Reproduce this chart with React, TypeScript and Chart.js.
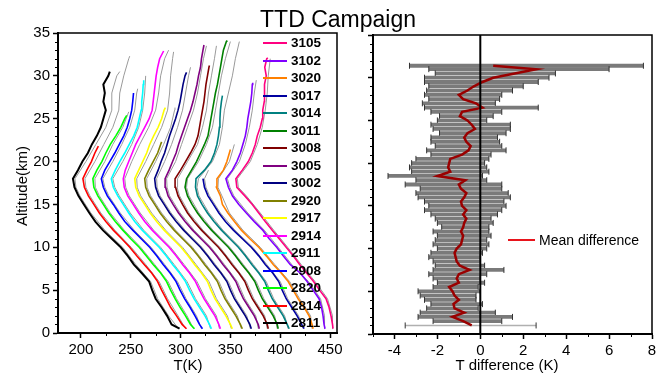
import React, { useEffect, useRef } from "react";
import { Chart, registerables } from "chart.js";

Chart.register(...registerables);

const FONT = "'Liberation Sans', Arial, Helvetica, sans-serif";

// ---------------- Left panel: temperature profiles (offset by 10 K each) ----------------
const ALT_KM = [0.5, 1, 2, 3, 4, 5, 6, 7, 8, 9, 10, 11, 12, 13, 14, 15, 16, 17, 18, 19, 20, 21, 22, 23, 24, 25, 26, 27, 28, 29, 30, 31, 32, 33, 34];
const GREY_ALT_KM = [0.5, 2, 4, 6, 8, 10, 12, 14, 16, 17, 18, 20, 22, 24, 26, 28, 30, 32, 34];

const SONDES = ["2811", "2814", "2820", "2908", "2911", "2914", "2917", "2920", "3002", "3005", "3008", "3011", "3014", "3017", "3020", "3102", "3105"];
const SONDE_COLORS = ["#000000", "#ff0000", "#00ff00", "#0000ff", "#00ffff", "#ff00ff", "#ffff00", "#808000", "#000080", "#800080", "#800000", "#008000", "#008080", "#0000a0", "#ff8000", "#8000ff", "#ff0080"];
const TOP_KM = [30.5, 21.8, 25.4, 28.0, 29.5, 32.9, 26.3, 22.3, 30.4, 33.6, 31.2, 34.1, 27.7, 18.0, 21.4, 29.2, 32.1];
const GREY_TOP_KM = [30.5, 32.3, 25.8, 28.5, 30, 33, 32.8, 26.3, 31, 33.5, 33.5, 34, 34, 19, 22, 29.5, 32];

const T_2811 = [299, 291, 286.5, 281, 275, 271.5, 268.5, 261, 253, 247, 240, 231, 222, 214.5, 208.5, 203, 197.5, 193.5, 192, 197, 201.5, 207, 211, 216, 220, 222.5, 225, 222.5, 224, 222.5, 227.5, 229];
const T_2814 = [306, 301.5, 296, 290, 285.5, 281, 277, 271, 263.5, 256, 249, 241, 232.5, 225, 218.5, 213, 207.5, 203.5, 202, 206, 210.5, 214, 217.5];
const T_2820 = [314, 310, 305, 299.5, 294.5, 290, 286, 280, 272.5, 265.5, 258.5, 250, 242, 234.5, 228, 222.5, 217, 213, 212, 216, 221, 225, 229.5, 235, 240, 244, 246];
const T_2908 = [322, 319, 314.5, 309.5, 304, 299.5, 295.5, 289.5, 282.5, 276, 269, 260.5, 252, 244, 238, 232.5, 226.5, 222.5, 220.5, 224, 229, 234, 238.5, 243, 246.5, 249, 251, 252, 252.8];
const T_2911 = [331, 329, 324.5, 319, 313.5, 309, 305, 299, 292, 285.5, 278.5, 270, 261.5, 254, 248, 242.5, 237, 232.5, 230.5, 234.5, 239, 244, 248.5, 253, 256.5, 258.5, 260.5, 261, 262, 262.5, 263];
const T_2914 = [340, 338.5, 334.5, 329, 323.5, 319, 315, 309, 302, 295.5, 288.5, 280, 271.5, 264, 258, 252.5, 247, 243.5, 242.5, 244.5, 248, 251.5, 255, 259.5, 264, 268.5, 271.5, 272.5, 273.5, 274.5, 275.5, 277, 279, 283];
const T_2917 = [352, 350, 345.5, 340, 334.5, 330.5, 327, 321, 314, 307.5, 300.5, 292, 283.5, 276, 269.5, 264, 258.5, 255, 254, 258, 262, 266, 269, 273, 277.5, 281, 283.5, 284.8];
const T_2920 = [362, 360, 355.5, 350, 344.5, 340.5, 337, 331, 324, 317.5, 310.5, 302, 293.5, 286, 279.5, 274, 268.5, 265, 264, 268, 272.5, 277, 280, 281];
const T_3002 = [371, 369.5, 365, 359.5, 354, 350, 346.5, 340.5, 333.5, 327, 320, 311.5, 303, 295.5, 289, 283.5, 278, 275, 274, 277.5, 280.5, 284, 286.5, 289, 292, 295, 297.5, 299.5, 301, 302.5, 304.5, 306];
const T_3005 = [379, 378, 374, 368.5, 363, 359, 355.5, 349.5, 342.5, 336, 329, 320.5, 312, 304.5, 298, 292.5, 287.5, 285, 284.5, 288.5, 292, 295.5, 298, 301, 304, 307, 310, 312.5, 314.5, 316.5, 318, 320, 321, 322.5, 323.5];
const T_3008 = [388, 387, 383, 377.5, 372, 368, 364.5, 358.5, 351.5, 345, 338, 329.5, 321, 313.5, 307, 302, 297.5, 295, 294.5, 300, 305, 310, 314.5, 317.5, 319, 320.5, 322, 323.5, 324.5, 325.5, 327, 328.5, 329];
const T_3011 = [398, 397, 393, 387.5, 382, 378, 374.5, 368.5, 361.5, 355, 348, 339.5, 331, 323.5, 317, 311.5, 307, 304.5, 306, 311, 316, 320, 324, 327.5, 329, 330.5, 332, 333.5, 335, 337, 338.5, 340, 341.5, 343, 346, 347];
const T_3014 = [409, 407, 403, 397.5, 392, 388, 384.5, 378.5, 371.5, 365, 358, 349.5, 341, 333.5, 327, 321.5, 317, 315, 315.5, 324, 330.5, 334, 336.5, 338, 339, 339.5, 340, 341, 342];
const T_3017 = [424, 421.5, 417, 411.5, 406, 402, 398.5, 392.5, 385, 378.5, 371, 362, 353, 345, 338.5, 333, 327.5, 324, 322.5];
const T_3020 = [433, 432, 429, 424, 418, 413, 408, 401, 393, 386, 378.5, 369.5, 361, 354, 347.5, 342, 340, 336, 336.5, 343, 346.5, 349, 350];
const T_3102 = [445, 444, 443, 441.5, 439, 433, 427, 420, 410, 403, 396.5, 389, 382.5, 374, 366, 358.5, 352, 348, 345.5, 352, 356.5, 360, 362.5, 365, 366.5, 367.5, 369, 370.5, 371.5, 372, 372.4];
const T_3105 = [453, 452.5, 451, 449, 446, 439.5, 433.5, 426.5, 419.5, 413, 406, 399, 392, 385, 378.5, 372, 364.5, 356.5, 355.5, 362, 368, 372, 375, 377, 380, 382, 382.5, 384, 384.5, 384, 386, 384.5, 386.5, 387.6];

const G_2811 = [298, 288, 277, 270, 255, 242, 224, 210, 199, 195, 194, 205, 215, 225, 231, 231, 236, 239];
const G_2814 = [305, 297.5, 287, 278.5, 265, 250.5, 234, 220, 209, 205, 204, 214, 223, 232, 238, 239, 243, 248, 249];
const G_2820 = [313, 306.5, 296, 287.5, 274, 260, 243.5, 229.5, 218.5, 214.5, 214, 224, 232, 242, 248];
const G_2908 = [321, 316, 305.5, 297, 284, 270.5, 253.5, 239.5, 228, 224, 222, 232, 241, 249, 254, 256, 257];
const G_2911 = [330, 326, 315, 306.5, 293.5, 280, 263, 249.5, 238.5, 234, 232, 242, 251, 258, 262, 264, 265];
const G_2914 = [339, 336, 325, 316.5, 303.5, 290, 273, 259.5, 248.5, 245, 244, 251, 259, 268, 275, 278, 280, 284, 288];
const G_2917 = [351, 347, 336, 328.5, 315.5, 302, 285, 271, 260, 256.5, 256, 265, 273, 281, 287, 289, 290, 292, 293];
const G_2920 = [361, 357, 346, 338.5, 325.5, 312, 295, 281, 270, 266.5, 266, 275, 283, 290, 294, 294.4];
const G_3002 = [370, 366.5, 355.5, 348, 335, 321.5, 304.5, 290.5, 279.5, 276.5, 276, 284, 291, 297, 302, 305, 308, 310];
const G_3005 = [378, 375.5, 364.5, 357, 344, 330.5, 313.5, 299.5, 289, 286.5, 286, 295, 301, 307, 313, 317, 320, 323, 326];
const G_3008 = [387, 384.5, 373.5, 366, 353, 339.5, 322.5, 308.5, 299, 296.5, 297, 307, 317, 322, 326, 328, 331, 334, 336];
const G_3011 = [397, 394.5, 383.5, 376, 363, 349.5, 332.5, 318.5, 308.5, 306, 307, 318, 326, 332, 335, 338, 341, 345, 350];
const G_3014 = [408, 404.5, 393.5, 386, 373, 359.5, 342.5, 328.5, 318.5, 316.5, 318, 332, 339, 342, 344, 348, 352, 355, 359];
const G_3017 = [423, 418.5, 407.5, 400, 386.5, 372.5, 354.5, 340, 329, 325.5, 324, 328];
const G_3020 = [432, 430.5, 419.5, 409.5, 394.5, 380, 362.5, 349, 341.5, 337.5, 338, 349, 354];
const G_3102 = [444, 444.5, 440.5, 428.5, 411.5, 398, 384, 367.5, 353.5, 349.5, 347, 359, 365, 369, 372, 374, 376];
const G_3105 = [452, 452.5, 447.5, 435, 421, 407.5, 393.5, 380, 366, 358, 357, 370, 377, 382, 385, 387, 388, 390];

const PROFILE_T = [T_2811, T_2814, T_2820, T_2908, T_2911, T_2914, T_2917, T_2920, T_3002, T_3005, T_3008, T_3011, T_3014, T_3017, T_3020, T_3102, T_3105];
const GREY_T = [G_2811, G_2814, G_2820, G_2908, G_2911, G_2914, G_2917, G_2920, G_3002, G_3005, G_3008, G_3011, G_3014, G_3017, G_3020, G_3102, G_3105];

// ---------------- Right panel: temperature difference ----------------
const DIFF_ALT_KM = [1, 1.5, 2, 2.5, 3, 3.5, 4, 4.5, 5, 5.5, 6, 6.5, 7, 7.5, 8, 8.5, 9, 9.5, 10, 10.5, 11, 11.5, 12, 12.5, 13, 13.5, 14, 14.5, 15, 15.5, 16, 16.5, 17, 17.5, 18, 18.5, 19, 19.5, 20, 20.5, 21, 21.5, 22, 22.5, 23, 23.5, 24, 24.5, 25, 25.5, 26, 26.5, 27, 27.5, 28, 28.5, 29, 29.5, 30, 30.5, 31, 31.4];
const DIFF_MEAN = [-0.4, -0.8, -1.3, -0.75, -1.2, -1.25, -1.0, -1.2, -1.3, -1.45, -1.0, -1.1, -1.0, -0.5, -0.95, -1.1, -1.15, -1.2, -1.1, -0.9, -0.85, -0.8, -0.9, -0.8, -0.75, -0.65, -0.8, -0.65, -0.85, -0.9, -0.75, -0.65, -0.9, -1.0, -0.7, -2.0, -1.4, -1.5, -1.45, -1.4, -0.85, -0.55, -0.45, -0.65, -0.75, -0.6, -0.25, -0.4, -0.6, -0.95, -0.85, 0.1, -0.2, -0.8, -1.0, -0.6, -0.3, 0.1, 0.6, 1.6, 2.6, 0.6];
const DIFF_LO = [-3.5, -2.2, -2.9, -2.8, -2.5, -2.3, -2.6, -2.8, -2.9, -2.2, -2.0, -2.2, -2.4, -2.2, -2.1, -2.2, -2.4, -2.3, -2.0, -2.2, -2.1, -2.0, -2.2, -1.8, -2.0, -2.1, -2.3, -2.6, -2.4, -2.6, -2.9, -3.0, -2.8, -3.5, -3.0, -4.3, -3.2, -3.3, -3.2, -3.0, -2.3, -2.5, -2.1, -2.3, -2.3, -1.9, -2.2, -2.3, -2.0, -1.9, -2.3, -2.6, -2.7, -2.4, -2.6, -2.5, -2.4, -2.6, -2.6, -2.1, -2.4, -3.3];
const DIFF_HI = [2.6, 1.0, 1.5, 0.7, -0.1, 0.1, -0.2, -0.2, 0.0, -0.1, 0.2, 0.0, 0.3, 1.1, 0.2, 0.0, 0.0, 0.1, 0.3, 0.4, 0.3, 0.5, 0.4, 0.4, 0.6, 0.5, 0.8, 1.0, 1.2, 1.1, 1.4, 1.3, 1.0, 1.0, 0.3, 0.1, 0.4, 0.3, 0.2, 0.4, 0.5, 1.2, 1.0, 0.9, 0.8, 1.2, 1.4, 1.4, 0.3, 0.6, 1.0, 2.7, 0.7, 0.9, 1.0, 1.5, 2.0, 2.7, 3.2, 3.5, 6.0, 7.6];

// ---------------- helpers ----------------
function toPoints(temps: number[], grid: number[], top: number) {
  return temps.map((t, k) => ({ x: t, y: k === temps.length - 1 ? top : grid[k] }));
}

const frameTicks = {
  id: "frameTicks",
  afterDraw(chart: any, _args: any, opts: any) {
    const { ctx, chartArea: a, scales } = chart;
    ctx.save();
    ctx.strokeStyle = "#000";
    ctx.lineWidth = 1.5;
    ctx.beginPath();
    ctx.moveTo(a.left, a.top);
    ctx.lineTo(a.right, a.top);
    ctx.lineTo(a.right, a.bottom);
    ctx.stroke();
    ctx.lineWidth = 1;
    ctx.beginPath();
    const xs = scales.x;
    const ys = scales.y;
    const eps = 1e-6;
    for (let v = Math.ceil(xs.min / opts.xMinor) * opts.xMinor; v <= xs.max + eps; v += opts.xMinor) {
      const r = v / opts.xMajor;
      if (Math.abs(r - Math.round(r)) < eps) continue;
      const px = Math.round(xs.getPixelForValue(v)) + 0.5;
      ctx.moveTo(px, a.bottom);
      ctx.lineTo(px, a.bottom + opts.len);
    }
    for (let v = Math.ceil(ys.min / opts.yMinor) * opts.yMinor; v <= ys.max + eps; v += opts.yMinor) {
      const r = v / opts.yMajor;
      if (Math.abs(r - Math.round(r)) < eps) continue;
      const py = Math.round(ys.getPixelForValue(v)) + 0.5;
      ctx.moveTo(a.left, py);
      ctx.lineTo(a.left - opts.len, py);
    }
    ctx.stroke();
    ctx.restore();
  },
};

const tickFont = { family: FONT, size: 15 };

function axis(min: number, max: number, step: number, fixed: { w?: number; h?: number }, showLabels = true) {
  return {
    type: "linear",
    min,
    max,
    ticks: { stepSize: step, includeBounds: false, display: showLabels, color: "#000", font: tickFont, padding: 3, autoSkip: false, maxRotation: 0 },
    grid: { drawOnChartArea: false, drawTicks: true, tickLength: 5, tickColor: "#000", tickWidth: 1.5 },
    border: { display: true, color: "#000", width: 2 },
    afterFit: (s: any) => {
      if (fixed.w !== undefined) s.width = fixed.w;
      if (fixed.h !== undefined) s.height = fixed.h;
      s.paddingLeft = 0;
      s.paddingRight = 0;
      s.paddingTop = 0;
      s.paddingBottom = 0;
    },
  };
}

function leftConfig(): any {
  const datasets: any[] = [];
  GREY_T.forEach((g, i) => {
    datasets.push({
      data: toPoints(g, GREY_ALT_KM, GREY_TOP_KM[i]),
      borderColor: "#9a9a9a",
      borderWidth: 1,
      showLine: true,
      pointRadius: 0,
      order: 1,
    });
  });
  PROFILE_T.forEach((t, i) => {
    datasets.push({
      label: SONDES[i],
      data: toPoints(t, ALT_KM, TOP_KM[i]),
      borderColor: SONDE_COLORS[i],
      borderWidth: i === 0 ? 2 : 1.6,
      showLine: true,
      pointRadius: 0,
      order: 0,
    });
  });
  return {
    type: "scatter",
    data: { datasets },
    options: {
      responsive: false,
      animation: false,
      events: [],
      layout: { padding: { left: 0, right: 8, top: 33, bottom: 0 } },
      scales: {
        x: axis(177, 457, 50, { h: 41 }),
        y: axis(0, 35, 5, { w: 58 }),
      },
      plugins: {
        legend: { display: false },
        tooltip: { enabled: false },
        frameTicks: { xMinor: 25, xMajor: 50, yMinor: 1, yMajor: 5, len: 3 },
      },
    },
    plugins: [frameTicks],
  };
}

function rightConfig(): any {
  const datasets: any[] = [];
  DIFF_ALT_KM.forEach((alt, i) => {
    datasets.push({
      data: [
        { x: DIFF_LO[i], y: alt },
        { x: DIFF_HI[i], y: alt },
      ],
      borderColor: i === 0 ? "#b0b0b0" : "#7a7a7a",
      borderWidth: i === 0 ? 1.5 : 3.8,
      showLine: true,
      pointStyle: "line",
      pointRotation: 90,
      pointRadius: 3,
      pointBorderWidth: 1,
      pointBorderColor: "#333333",
      order: 3,
    });
  });
  datasets.push({
    data: DIFF_ALT_KM.map((alt, i) => ({ x: DIFF_MEAN[i], y: alt })),
    borderColor: "#9a0000",
    borderWidth: 2.5,
    showLine: true,
    pointRadius: 0,
    order: 1,
  });
  datasets.push({
    data: [
      { x: 0, y: 0 },
      { x: 0, y: 35 },
    ],
    borderColor: "#000",
    borderWidth: 2,
    showLine: true,
    pointRadius: 0,
    order: 0,
  });
  return {
    type: "scatter",
    data: { datasets },
    options: {
      responsive: false,
      animation: false,
      events: [],
      layout: { padding: { left: 0, right: 9, top: 35, bottom: 0 } },
      scales: {
        x: axis(-5, 8, 2, { h: 40 }),
        y: axis(0, 35, 5, { w: 33 }, false),
      },
      plugins: {
        legend: { display: false },
        tooltip: { enabled: false },
        frameTicks: { xMinor: 1, xMajor: 2, yMinor: 1, yMajor: 5, len: 3 },
      },
    },
    plugins: [frameTicks],
  };
}

const abs: React.CSSProperties = { position: "absolute", whiteSpace: "nowrap", pointerEvents: "none", color: "#000" };

export default function App() {
  const leftRef = useRef<HTMLCanvasElement>(null);
  const rightRef = useRef<HTMLCanvasElement>(null);

  useEffect(() => {
    const c1 = new Chart(leftRef.current as HTMLCanvasElement, leftConfig());
    const c2 = new Chart(rightRef.current as HTMLCanvasElement, rightConfig());
    return () => {
      c1.destroy();
      c2.destroy();
    };
  }, []);

  const legendRows = SONDES.map((id, i) => ({ id, color: SONDE_COLORS[i] })).reverse();

  return (
    <div style={{ position: "fixed", left: 0, top: 0, width: 661, height: 374, background: "#fff", overflow: "hidden", fontFamily: FONT }}>
      <canvas ref={leftRef} width={345} height={374} style={{ position: "absolute", left: 0, top: 0, width: 345, height: 374 }} />
      <canvas ref={rightRef} width={321} height={374} style={{ position: "absolute", left: 340, top: 0, width: 321, height: 374 }} />

      <div style={{ ...abs, left: 338, top: 19, transform: "translate(-50%, -50%)", fontSize: 23, lineHeight: "26px" }}>TTD Campaign</div>

      <div style={{ ...abs, left: 22, top: 186, transform: "translate(-50%, -50%) rotate(-90deg)", fontSize: 15, lineHeight: "18px" }}>Altitude(km)</div>
      <div style={{ ...abs, left: 188, top: 365, transform: "translate(-50%, -50%)", fontSize: 15, lineHeight: "18px" }}>T(K)</div>
      <div style={{ ...abs, left: 507, top: 365, transform: "translate(-50%, -50%)", fontSize: 15, lineHeight: "18px" }}>T difference (K)</div>

      {legendRows.map((r, k) => {
        const cy = 43.3 + 17.5 * k;
        return (
          <div key={r.id}>
            <div style={{ position: "absolute", left: 263, top: cy - 1, width: 24, height: 2, background: r.color }} />
            <div style={{ ...abs, left: 291, top: cy, transform: "translateY(-50%)", fontSize: 13.5, fontWeight: "bold", lineHeight: "16px" }}>{r.id}</div>
          </div>
        );
      })}

      <div style={{ position: "absolute", left: 508, top: 239, width: 27, height: 2, background: "#e8141c" }} />
      <div style={{ ...abs, left: 539, top: 240, transform: "translateY(-50%)", fontSize: 14, lineHeight: "17px" }}>Mean difference</div>
    </div>
  );
}
